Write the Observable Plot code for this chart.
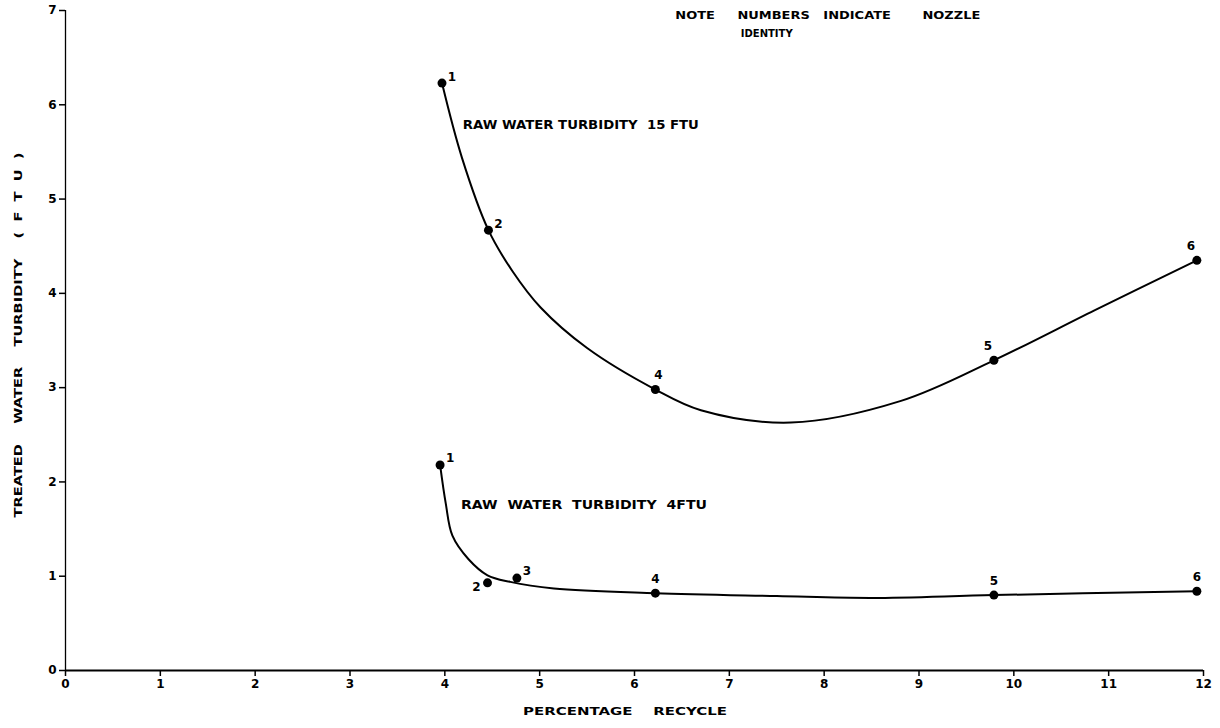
<!DOCTYPE html>
<html>
<head>
<meta charset="utf-8">
<script src="https://cdn.jsdelivr.net/npm/d3@7"></script>
<script src="https://cdn.jsdelivr.net/npm/@observablehq/plot@0.6"></script>
<style>
  html, body { margin: 0; padding: 0; background: #fff; overflow: hidden; }
  #chart svg { display: block; }
</style>
</head>
<body>
<div id="chart"></div>
<script>
// Marked nozzle points — raw water turbidity 15 FTU
const upperNozzle = [1, 2, 4, 5, 6];
const upperRecycle = [3.97, 4.46, 6.22, 9.79, 11.93];
const upperTurbidity = [6.23, 4.67, 2.98, 3.29, 4.35];

// Marked nozzle points — raw water turbidity 4 FTU
const lowerNozzle = [1, 2, 3, 4, 5, 6];
const lowerRecycle = [3.95, 4.45, 4.76, 6.22, 9.79, 11.93];
const lowerTurbidity = [2.18, 0.93, 0.98, 0.82, 0.80, 0.84];

// Hand-drawn curve traces
const upperCurveX = [3.97, 4.18, 4.46, 4.71, 5.01, 5.5, 6.22, 6.70, 7.65, 8.81, 9.79, 10.85, 11.93];
const upperCurveY = [6.23, 5.44, 4.67, 4.24, 3.85, 3.42, 2.98, 2.76, 2.63, 2.86, 3.29, 3.82, 4.35];
const lowerCurveX = [3.95, 4.01, 4.08, 4.25, 4.45, 4.69, 5.15, 6.22, 7.5, 8.5, 9.79, 11.93];
const lowerCurveY = [2.18, 1.77, 1.43, 1.18, 1.01, 0.94, 0.87, 0.82, 0.79, 0.77, 0.80, 0.84];

const xTicks = [0, 1, 2, 3, 4, 5, 6, 7, 8, 9, 10, 11, 12];
const yTicks = [0, 1, 2, 3, 4, 5, 6, 7];

const NB = "\u00a0";
const curveLabels = [
  "RAW WATER TURBIDITY" + NB + " 15 FTU",
  "RAW" + NB + " WATER" + NB + " TURBIDITY" + NB + " 4FTU"
];
const noteLines = [
  "NOTE" + NB.repeat(4) + " NUMBERS" + NB.repeat(2) + " INDICATE" + NB.repeat(6) + " NOZZLE",
  "IDENTITY"
];
const xLabel = "PERCENTAGE" + NB.repeat(3) + " RECYCLE";
const yLabel = "TREATED" + NB.repeat(3) + " WATER" + NB.repeat(3) + " TURBIDITY" + NB.repeat(3) + " (" + NB + " F" + NB + " T" + NB + " U" + NB + " )";

const zip = (xs, ys, ids) => xs.map((x, i) => ({x, y: ys[i], id: ids ? ids[i] : null}));
const upperPts = zip(upperRecycle, upperTurbidity, upperNozzle);
const lowerPts = zip(lowerRecycle, lowerTurbidity, lowerNozzle);
const upperCurve = zip(upperCurveX, upperCurveY);
const lowerCurve = zip(lowerCurveX, lowerCurveY);

const font = "'DejaVu Sans', sans-serif";
const lbl = {fontSize: 12, fontWeight: "bold", fill: "#000", text: "id"};
const txt = {text: d => d, fontSize: 11, fontWeight: "bold", fill: "#000"};

const chart = Plot.plot({
  width: 1220,
  height: 728,
  marginLeft: 65,
  marginRight: 17,
  marginTop: 10,
  marginBottom: 58,
  style: {fontFamily: font, background: "#fff", color: "#000", overflow: "visible"},
  x: {domain: [0, 12]},
  y: {domain: [0, 7]},
  marks: [
    Plot.axisX({ticks: xTicks, tickFormat: d => String(d), tickSize: 6, tickPadding: 3, fontSize: 12, fontWeight: "bold", label: null, strokeWidth: 1.5}),
    Plot.axisY({ticks: yTicks, tickFormat: d => String(d), tickSize: 6, tickPadding: 3, fontSize: 12, fontWeight: "bold", label: null, strokeWidth: 1.5}),
    Plot.ruleY([0], {stroke: "#000", strokeWidth: 1.8}),
    Plot.ruleX([0], {stroke: "#000", strokeWidth: 1.3}),
    Plot.line(upperCurve, {x: "x", y: "y", curve: "catmull-rom", stroke: "#000", strokeWidth: 2}),
    Plot.line(lowerCurve, {x: "x", y: "y", curve: "catmull-rom", stroke: "#000", strokeWidth: 2}),
    Plot.dot(upperPts, {x: "x", y: "y", r: 4.5, fill: "#000"}),
    Plot.dot(lowerPts, {x: "x", y: "y", r: 4.5, fill: "#000"}),
    // nozzle labels
    Plot.text(upperPts.filter(d => d.id <= 2), {x: "x", y: "y", ...lbl, dx: 10, dy: -6}),
    Plot.text(upperPts.filter(d => d.id === 4), {x: "x", y: "y", ...lbl, dx: 3, dy: -14}),
    Plot.text(upperPts.filter(d => d.id >= 5), {x: "x", y: "y", ...lbl, dx: -6, dy: -14}),
    Plot.text(lowerPts.filter(d => d.id === 1 || d.id === 3), {x: "x", y: "y", ...lbl, dx: 10, dy: -7}),
    Plot.text(lowerPts.filter(d => d.id === 2), {x: "x", y: "y", ...lbl, dx: -11, dy: 4}),
    Plot.text(lowerPts.filter(d => d.id >= 4), {x: "x", y: "y", ...lbl, dx: 0, dy: -14}),
    // curve captions
    Plot.text([curveLabels[0]], {x: 4.19, y: 5.78, textAnchor: "start", ...txt, fontSize: 12}),
    Plot.text([curveLabels[1]], {x: 4.17, y: 1.75, textAnchor: "start", ...txt, fontSize: 12}),
    // note
    Plot.text([noteLines[0]], {x: 6.43, y: 6.95, textAnchor: "start", ...txt}),
    Plot.text([noteLines[1]], {x: 7.12, y: 6.755, textAnchor: "start", ...txt}),
    // axis titles
    Plot.text([xLabel], {x: 5.9, frameAnchor: "bottom", dy: 44, ...txt}),
    Plot.text([yLabel], {frameAnchor: "left", textAnchor: "middle", rotate: -90, dx: -47, dy: -5.5, ...txt})
  ]
});

// fit the plotter-style lettering to the widths seen in the original
const fitWidths = new Map([
  [curveLabels[0], 236],
  [curveLabels[1], 246],
  [noteLines[0], 305],
  [noteLines[1], 52],
  [xLabel, 204],
  [yLabel, 365]
]);
d3.select(chart).selectAll("text").each(function() {
  const w = fitWidths.get(this.textContent);
  if (w) d3.select(this).attr("textLength", w).attr("lengthAdjust", "spacingAndGlyphs");
});
document.getElementById("chart").appendChild(chart);
</script>
</body>
</html>
